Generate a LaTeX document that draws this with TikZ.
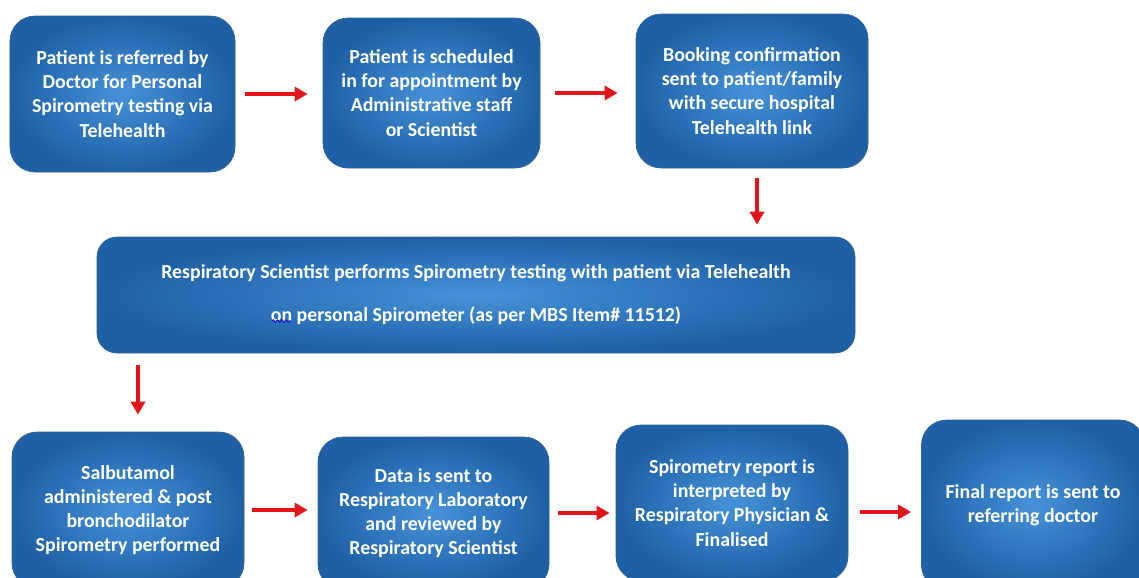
\documentclass[tikz,border=0pt]{standalone}
\usepackage{fontspec}
\setmainfont{Carlito}
\usepackage{tikz}
\usetikzlibrary{shapes, arrows.meta, positioning, calc, decorations.pathmorphing}
\definecolor{boxdark}{RGB}{30,96,166}
\definecolor{boxlight}{RGB}{70,146,216}
\definecolor{boxline}{RGB}{52,96,150}
\definecolor{flowred}{RGB}{226,22,26}
\definecolor{squiggle}{RGB}{30,30,200}
\tikzset{
  stepbox/.style = {draw=boxline, line width=0.4pt, rounded corners=0.5cm, shading=radial,
    inner color=boxlight, outer color=boxdark, align=center, text=white,
    font=\bfseries\fontsize{11.3}{13.7}\selectfont},
  flow/.style = {-{Triangle[length=2.6mm, width=2.8mm]}, draw=flowred, line width=2.1pt}
}

\begin{document}
\begin{tikzpicture}
  \useasboundingbox (0,0) rectangle (22.78,-11.54);
  \clip (0,0) rectangle (22.78,-11.54);

  % top row
  \node[stepbox, minimum width=4.5cm, minimum height=3.12cm] (refer) at (2.45,-1.88)
    {Patient is referred by\\Doctor for Personal\\Spirometry testing via\\Telehealth};
  \node[stepbox, minimum width=4.34cm, minimum height=3.0cm] (sched) at (8.63,-1.86)
    {Patient is scheduled\\in for appointment by\\Administrative staff\\or Scientist};
  \node[stepbox, minimum width=4.64cm, minimum height=3.08cm] (booking) at (15.04,-1.82)
    {Booking confirmation\\sent to patient/family\\with secure hospital\\Telehealth link};

  % middle
  \node[stepbox, minimum width=15.16cm, minimum height=2.32cm, rounded corners=0.4cm,
    font=\bfseries\fontsize{11.3}{24.5}\selectfont] (testing) at (9.52,-5.90)
    {Respiratory Scientist performs Spirometry testing with patient via Telehealth\\
     on personal Spirometer (as per MBS Item\# 11512)};
  \draw[squiggle, line width=0.7pt, decorate,
    decoration={snake, amplitude=0.6pt, segment length=2.4pt}]
    ($(testing.center)+(-4.08,-0.52)$) -- ++(0.38,0);

  % bottom row
  \node[stepbox, minimum width=4.64cm, minimum height=3.12cm] (salbu) at (2.56,-10.2)
    {Salbutamol\\administered \& post\\bronchodilator\\Spirometry performed};
  \node[stepbox, minimum width=4.62cm, minimum height=3.04cm] (data) at (8.67,-10.26)
    {Data is sent to\\Respiratory Laboratory\\and reviewed by\\Respiratory Scientist};
  \node[stepbox, minimum width=4.64cm, minimum height=3.12cm] (interp) at (14.64,-10.06)
    {Spirometry report is\\interpreted by\\Respiratory Physician \&\\Finalised};
  \node[stepbox, minimum width=4.46cm, minimum height=3.4cm] (final) at (20.66,-10.1)
    {Final report is sent to\\referring doctor};

  % arrows
  \draw[flow, shorten <=0.2cm, shorten >=0.3cm] (refer.east) -- (refer.east -| sched.west);
  \draw[flow, shorten <=0.3cm, shorten >=0.36cm] (sched.east) -- (sched.east -| booking.west);
  \draw[flow, shorten <=0.2cm, shorten >=0.24cm] ($(booking.south)+(0.1,0)$) -- ($(booking.south |- testing.north)+(0.1,0)$);
  \draw[flow, shorten <=0.24cm, shorten >=0.34cm] ($(salbu.north |- testing.south)+(0.2,0)$) -- ($(salbu.north)+(0.2,0)$);
  \draw[flow, shorten <=0.16cm, shorten >=0.2cm] (salbu.east) -- (salbu.east -| data.west);
  \draw[flow, shorten <=0.18cm, shorten >=0.12cm] (data.east) -- (data.east -| interp.west);
  \draw[flow, shorten <=0.24cm, shorten >=0.2cm] ($(interp.east)+(0,-0.18)$) -- ($(interp.east -| final.west)+(0,-0.18)$);
\end{tikzpicture}
\end{document}
